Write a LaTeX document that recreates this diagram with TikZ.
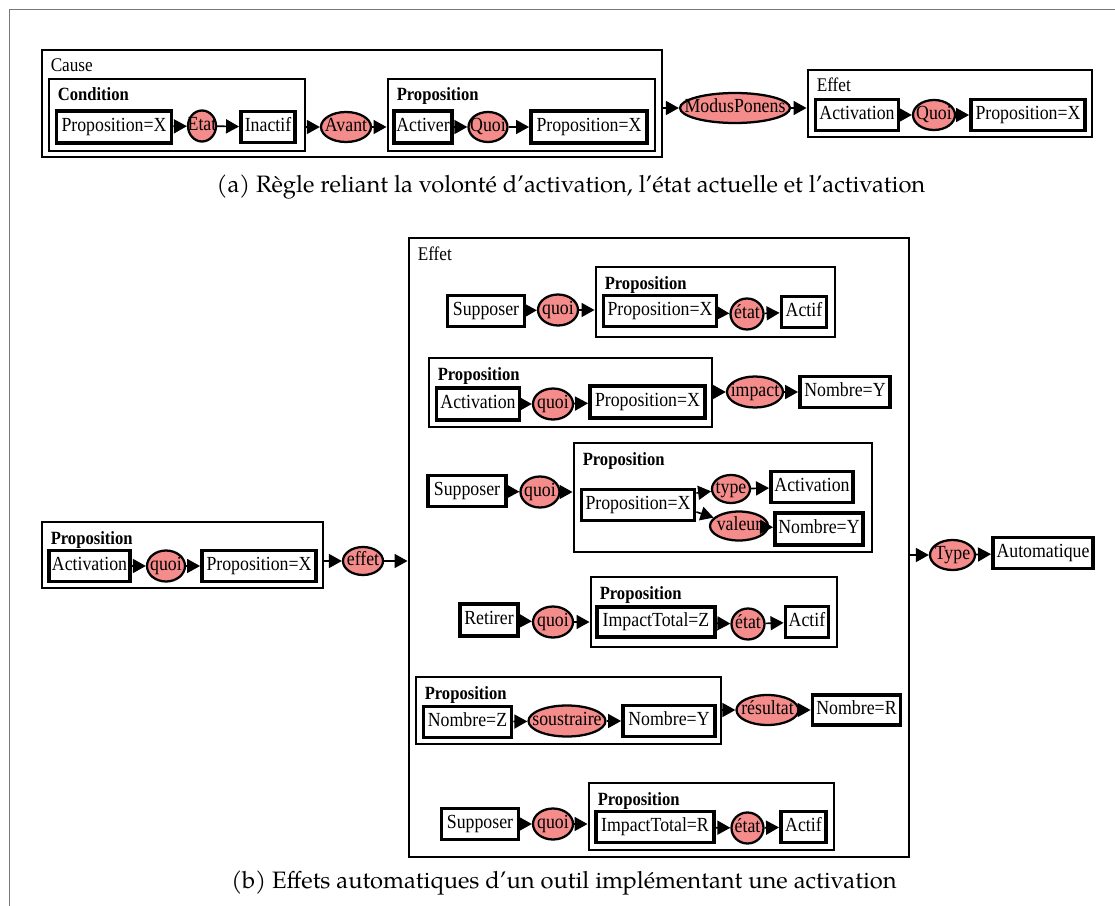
\documentclass[tikz,border=0pt]{standalone}
\usepackage{graphicx}
\usepackage{fontspec}
\setmainfont{Liberation Serif}
\newfontfamily\capfont{TeX Gyre Pagella}
\usetikzlibrary{arrows.meta,shapes.geometric,fit,calc}
\definecolor{salmon}{RGB}{243,140,138}
\definecolor{framegray}{RGB}{120,120,120}
\newcommand\sq[1]{\scalebox{0.89}[1]{#1}}
\tikzset{
  itembox/.style={draw,line width=2.9pt,fill=white,inner sep=0pt,text height=10.5pt,text depth=3.2pt,font=\fontsize{15}{17}\selectfont},
  cont/.style={draw,line width=2.2pt,inner sep=0pt},
  rel/.style={ellipse,draw,line width=1.7pt,fill=salmon,inner sep=0pt,text height=10.5pt,text depth=3.2pt,font=\fontsize{15}{17}\selectfont},
  arr/.style={line width=1.25pt,-{Triangle[length=9.75pt,width=10.5pt]}},
  contlabel/.style={anchor=base west,inner sep=0pt,font=\fontsize{14.5}{17}\selectfont},
  boldlabel/.style={anchor=base west,inner sep=0pt,font=\fontsize{14}{17}\selectfont\bfseries},
  caption/.style={inner sep=0pt,font=\capfont\fontsize{17.8}{20}\selectfont}
}
% name, x, y, width, height, text
\newcommand\mkbox[6]{\node[itembox,minimum width=#4*0.75pt,minimum height=#5*0.75pt] (#1) at (#2,#3) {\sq{#6}};}
% name, x, y, width, height, text
\newcommand\mkell[6]{\node[rel,minimum width=#4*0.75pt,minimum height=#5*0.75pt] (#1) at (#2,#3) {\makebox[0pt]{\sq{#6}}};}
% name, x1, y1, x2, y2, label style, label
\newcommand\mkcont[7]{\node[cont,fit={(#2,#3)(#4,#5)}] (#1) {};
  \node[#6] (#1-l) at (#2+8.5,#3+22) {\sq{#7}};}
\begin{document}
\begin{tikzpicture}[x=0.75pt,y=-0.75pt]
\useasboundingbox (0,0) rectangle (1115,906);
\coordinate (fa) at (9.5,906);
\coordinate (fb) at (9.5,9.5);
\coordinate (fc) at (1115,9.5);
\draw[framegray,line width=0.75pt] (fa) -- (fb) -- (fc);

% ---------- (a)
\mkcont{cause}{42}{50}{662}{157}{contlabel}{Cause}
\mkcont{cond}{49}{79}{305}{151}{boldlabel}{Condition}
\mkcont{propA}{388}{79}{655}{151}{boldlabel}{Proposition}
\mkcont{effA}{808}{70}{1092}{137}{contlabel}{Effet}
\mkbox{pxa}{114}{127}{115}{32}{Proposition=X}
\mkell{etat}{202}{126}{28}{31}{Etat}
\mkbox{inactif}{268}{127}{54}{31}{Inactif}
\mkell{avant}{346}{127}{50}{30}{Avant}
\mkbox{activer}{423}{127}{58}{32}{Activer}
\mkell{quoiA}{488}{127}{39}{30}{Quoi}
\mkbox{pxb}{589}{127}{116}{32}{Proposition=X}
\mkell{mp}{735}{108}{110}{30}{ModusPonens}
\mkbox{activ}{857}{115}{83}{31}{Activation}
\mkell{quoiB}{934}{115}{42}{30}{Quoi}
\mkbox{pxc}{1028}{115}{114}{31}{Proposition=X}
\draw[arr] (pxa) -- (etat);
\draw[arr] (etat) -- (inactif);
\draw[arr] (cond.east |- avant.west) -- (avant);
\draw[arr] (avant) -- (propA.west |- avant.east);
\draw[arr] (activer) -- (quoiA);
\draw[arr] (quoiA) -- (pxb);
\draw[arr] (cause.east |- mp.west) -- (mp);
\draw[arr] (mp) -- (effA.west |- mp.east);
\draw[arr] (activ) -- (quoiB);
\draw[arr] (quoiB) -- (pxc);
\node[caption] (capa) at (571,187) {(a) Règle reliant la volonté d’activation, l’état actuelle et l’activation};

% ---------- (b)
\mkcont{propL}{42}{522}{323}{588}{boldlabel}{Proposition}
\mkcont{effB}{409}{238}{909}{857}{contlabel}{Effet}
\mkbox{activL}{89.5}{566}{81}{31}{Activation}
\mkell{quoiL}{166}{566}{38}{31}{quoi}
\mkbox{pxL}{259}{566}{114}{31}{Proposition=X}
\mkell{effet}{363}{561}{40}{28}{effet}
\mkell{type}{952.5}{555}{45}{30}{Type}
\mkbox{auto}{1043}{553}{100}{31}{Automatique}
\draw[arr] (activL) -- (quoiL);
\draw[arr] (quoiL) -- (pxL);
\draw[arr] (propL.east |- effet.west) -- (effet);
\draw[arr] (effet) -- (effB.west |- effet.east);
\draw[arr] (effB.east |- type.west) -- (type);
\draw[arr] (type) -- (auto);

% row 1
\mkcont{p1}{596}{267}{835}{337}{boldlabel}{Proposition}
\mkbox{sup1}{486}{311}{77}{31}{Supposer}
\mkell{q1}{558}{310}{40}{31}{quoi}
\mkbox{px1}{660}{311}{113}{31}{Proposition=X}
\mkell{et1}{747}{314}{33}{31}{état}
\mkbox{act1}{804}{312}{45}{31}{Actif}
\draw[arr] (sup1) -- (q1);
\draw[arr] (q1) -- (p1.west |- q1.east);
\draw[arr] (px1) -- (et1);
\draw[arr] (et1) -- (act1);

% row 2
\mkcont{p2}{429}{358}{712}{427}{boldlabel}{Proposition}
\mkbox{activ2}{478}{404}{83}{32}{Activation}
\mkell{q2}{553}{404}{40}{31}{quoi}
\mkbox{px2}{647.5}{402}{115}{32}{Proposition=X}
\mkell{imp}{755}{392}{56}{31}{impact}
\mkbox{nY2}{845}{392}{90}{31}{Nombre=Y}
\draw[arr] (activ2) -- (q2);
\draw[arr] (q2) -- (px2);
\draw[arr] (p2.east |- imp.west) -- (imp);
\draw[arr] (imp) -- (nY2);

% row 3
\mkcont{p3}{574}{443}{872}{552}{boldlabel}{Proposition}
\mkbox{sup3}{467}{491}{78}{31}{Supposer}
\mkell{q3}{540}{492}{39}{31}{quoi}
\mkbox{px3}{638}{505}{113}{31}{Proposition=X}
\mkell{typ}{731}{489}{38}{28}{type}
\mkbox{act3}{812}{487}{82}{31}{Activation}
\mkell{val}{739}{526}{58}{29}{valeur}
\mkbox{nY3}{819}{529}{88}{32}{Nombre=Y}
\coordinate (px3a) at ($(px3.east)+(0,-12)$);
\coordinate (px3b) at ($(px3.east)+(0,7)$);
\draw[arr] (sup3) -- (q3);
\draw[arr] (q3) -- (p3.west |- q3.east);
\draw[arr] (px3a) -- (typ);
\draw[arr] (px3b) -- (val);
\draw[arr] (typ) -- (act3);
\draw[arr] (val) -- (nY3);

% row 4
\mkcont{p4}{591}{577}{837}{647}{boldlabel}{Proposition}
\mkbox{ret}{489}{620}{58}{32}{Retirer}
\mkell{q4}{553}{622}{40}{31}{quoi}
\mkbox{it4}{656}{622}{118}{30}{ImpactTotal=Z}
\mkell{et4}{748}{624}{33}{31}{état}
\mkbox{act4}{807}{622}{43}{31}{Actif}
\draw[arr] (ret) -- (q4);
\draw[arr] (q4) -- (p4.west |- q4.east);
\draw[arr] (it4) -- (et4);
\draw[arr] (et4) -- (act4);

% row 5
\mkcont{p5}{416}{677}{721}{744}{boldlabel}{Proposition}
\mkbox{nZ}{467.5}{722}{88}{31}{Nombre=Z}
\mkell{sous}{567}{721}{77}{31}{soustraire}
\mkbox{nY5}{669}{721}{92}{31}{Nombre=Y}
\mkell{res}{767.5}{710}{62}{30}{résultat}
\mkbox{nR}{856.5}{710}{88}{30}{Nombre=R}
\draw[arr] (nZ) -- (sous);
\draw[arr] (sous) -- (nY5);
\draw[arr] (p5.east |- res.west) -- (res);
\draw[arr] (res) -- (nR);

% row 6
\mkcont{p6}{589}{783}{834}{850}{boldlabel}{Proposition}
\mkbox{sup6}{480}{824}{77}{31}{Supposer}
\mkell{q6}{553}{824}{40}{31}{quoi}
\mkbox{it6}{655}{827}{118}{31}{ImpactTotal=R}
\mkell{et6}{747.5}{828}{32}{31}{état}
\mkbox{act6}{803.5}{827}{45}{31}{Actif}
\draw[arr] (sup6) -- (q6);
\draw[arr] (q6) -- (p6.west |- q6.east);
\draw[arr] (it6) -- (et6);
\draw[arr] (et6) -- (act6);

\node[caption] (capb) at (564,883) {(b) Effets automatiques d’un outil implémentant une activation};
\end{tikzpicture}
\end{document}
